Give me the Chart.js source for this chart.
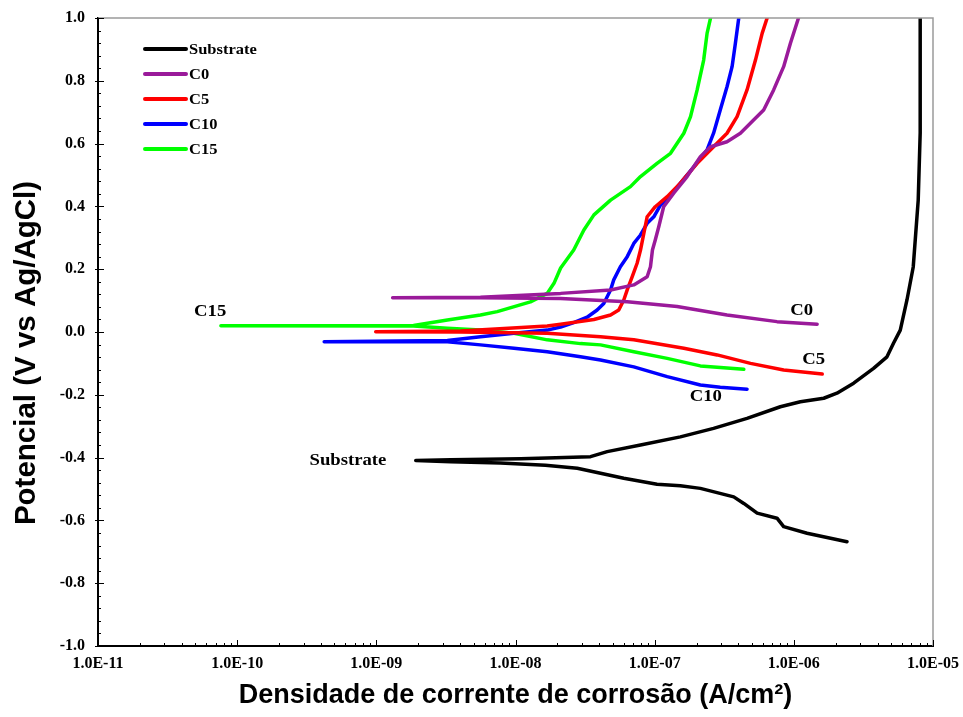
<!DOCTYPE html>
<html>
<head>
<meta charset="utf-8">
<script src="https://cdn.jsdelivr.net/npm/chart.js@4.4.1/dist/chart.umd.min.js"></script>
<style>
  html, body { margin: 0; padding: 0; background: #ffffff; }
  canvas { display: block; }
</style>
</head>
<body>
<canvas id="chart" width="963" height="717"></canvas>
<script>
// Potentiodynamic polarisation curves: current density (A/cm²) vs potential (V vs Ag/AgCl).
// Each curve runs from the cathodic end, through the corrosion potential, up the anodic branch.

const seriesNames  = ['Substrate', 'C0', 'C5', 'C10', 'C15'];
const seriesColors = ['#000000', '#9a1a9a', '#ff0000', '#0000ff', '#00ff00'];

const substrateI = [2.41e-6, 1.245e-6, 8.45e-7, 7.57e-7, 5.45e-7, 4.37e-7, 3.70e-7, 2.13e-7, 1.53e-7, 1.04e-7,
                    6.0e-8, 2.78e-8, 1.64e-8, 7.8e-9, 3.42e-9, 1.92e-9, 3.42e-9, 1.09e-8, 3.46e-8, 4.56e-8,
                    7.91e-8, 1.53e-7, 2.65e-7, 4.61e-7, 8.0e-7, 1.115e-6, 1.64e-6, 2.04e-6, 2.69e-6, 3.74e-6,
                    4.67e-6, 5.2e-6, 5.82e-6, 6.5e-6, 7.21e-6, 7.83e-6, 8.09e-6, 8.09e-6];
const substrateE = [-0.668, -0.641, -0.620, -0.593, -0.577, -0.546, -0.525, -0.498, -0.490, -0.485,
                    -0.466, -0.434, -0.424, -0.417, -0.413, -0.409, -0.407, -0.404, -0.397, -0.381,
                    -0.360, -0.334, -0.307, -0.275, -0.238, -0.222, -0.211, -0.195, -0.163, -0.116,
                    -0.079, -0.036, 0.006, 0.102, 0.207, 0.420, 0.634, 1.0];

const c0I = [1.47e-6, 7.57e-7, 3.31e-7, 1.45e-7, 6.35e-8, 2.11e-8, 5.6e-9, 1.31e-9, 5.6e-9, 2.11e-8,
             4.82e-8, 7.08e-8, 8.83e-8, 9.33e-8, 9.64e-8, 1.01e-7, 1.07e-7, 1.16e-7, 1.37e-7, 1.71e-7,
             2.13e-7, 2.52e-7, 3.31e-7, 4.13e-7, 5.14e-7, 6.07e-7, 7.16e-7, 8.45e-7, 9.44e-7, 1.08e-6];
const c0E = [0.025, 0.033, 0.054, 0.081, 0.096, 0.107, 0.109, 0.109, 0.111, 0.123,
             0.134, 0.150, 0.176, 0.208, 0.261, 0.293, 0.335, 0.399, 0.442, 0.495,
             0.558, 0.590, 0.606, 0.633, 0.675, 0.707, 0.771, 0.845, 0.919, 1.0];

const c5I = [1.60e-6, 8.45e-7, 4.88e-7, 2.81e-7, 1.62e-7, 7.08e-8, 4.08e-8, 1.69e-8, 4.04e-9, 9.9e-10,
             4.04e-9, 1.69e-8, 2.11e-8, 3.66e-8, 4.82e-8, 5.52e-8, 6.0e-8, 6.35e-8, 6.9e-8, 7.48e-8,
             7.91e-8, 8.83e-8, 1.01e-7, 1.23e-7, 1.53e-7, 2.02e-7, 2.65e-7, 3.31e-7, 3.91e-7, 4.61e-7,
             5.3e-7, 5.92e-7, 6.43e-7];
const c5E = [-0.134, -0.121, -0.100, -0.073, -0.052, -0.025, -0.015, -0.004, 0.0, 0.001,
             0.003, 0.019, 0.025, 0.040, 0.054, 0.070, 0.102, 0.134, 0.176, 0.219,
             0.261, 0.367, 0.399, 0.431, 0.474, 0.537, 0.590, 0.633, 0.686, 0.771,
             0.866, 0.951, 1.0];

const c10I = [4.61e-7, 2.96e-7, 2.13e-7, 1.23e-7, 7.08e-8, 4.08e-8, 2.93e-8, 1.69e-8, 9.75e-9, 5.6e-9,
              3.24e-9, 4.22e-10, 3.24e-9, 5.6e-9, 9.75e-9, 1.69e-8, 2.11e-8, 2.62e-8, 3.27e-8, 3.86e-8,
              4.31e-8, 4.82e-8, 5.08e-8, 5.67e-8, 6.35e-8, 7.08e-8, 7.91e-8, 8.83e-8, 9.86e-8, 1.10e-7,
              1.23e-7, 1.53e-7, 1.91e-7, 2.38e-7, 2.65e-7, 2.96e-7, 3.31e-7, 3.6e-7, 3.80e-7, 4.02e-7];
const c10E = [-0.182, -0.176, -0.169, -0.142, -0.111, -0.089, -0.079, -0.063, -0.052, -0.041,
              -0.031, -0.031, -0.027, -0.015, -0.004, 0.006, 0.016, 0.030, 0.047, 0.070,
              0.091, 0.134, 0.166, 0.208, 0.240, 0.282, 0.309, 0.346, 0.367, 0.404,
              0.420, 0.474, 0.526, 0.580, 0.633, 0.707, 0.781, 0.845, 0.919, 1.0];

const c15I = [4.37e-7, 2.13e-7, 1.23e-7, 7.08e-8, 4.08e-8, 2.93e-8, 1.69e-8, 9.75e-9, 5.6e-9, 3.24e-9,
              1.85e-9, 7.64e-11, 1.85e-9, 3.24e-9, 5.6e-9, 7.39e-9, 1.28e-8, 1.69e-8, 1.89e-8, 2.11e-8,
              2.62e-8, 3.10e-8, 3.66e-8, 4.82e-8, 6.7e-8, 7.91e-8, 1.04e-7, 1.30e-7, 1.62e-7, 1.81e-7,
              2.02e-7, 2.25e-7, 2.38e-7, 2.52e-7];
const c15E = [-0.119, -0.108, -0.084, -0.063, -0.041, -0.037, -0.025, -0.004, 0.006, 0.012,
              0.019, 0.020, 0.021, 0.038, 0.054, 0.065, 0.096, 0.123, 0.155, 0.204,
              0.261, 0.325, 0.373, 0.420, 0.463, 0.495, 0.537, 0.569, 0.633, 0.686,
              0.771, 0.866, 0.951, 1.0];

// Axis ranges and tick values
const xDecades = [1e-11, 1e-10, 1e-9, 1e-8, 1e-7, 1e-6, 1e-5];
const yMin = -1.0, yMax = 1.0, yStep = 0.2, yMinorStep = 0.04;

// Curve labels placed beside each curve (current density, potential)
const curveLabels = [
  { text: 'C15',       i: 6.4e-11, e: 0.064 },
  { text: 'C0',        i: 1.14e-6, e: 0.067 },
  { text: 'C5',        i: 1.39e-6, e: -0.089 },
  { text: 'C10',       i: 2.33e-7, e: -0.207 },
  { text: 'Substrate', i: 6.25e-10, e: -0.411 }
];

const currents   = [substrateI, c0I, c5I, c10I, c15I];
const potentials = [substrateE, c0E, c5E, c10E, c15E];

const datasets = seriesNames.map((name, k) => ({
  label: name,
  data: currents[k].map((v, j) => ({ x: v, y: potentials[k][j] })),
  borderColor: seriesColors[k],
  backgroundColor: seriesColors[k],
  borderWidth: 3.5,
  pointRadius: 0,
  showLine: true,
  tension: 0,
  borderJoinStyle: 'round',
  borderCapStyle: 'round'
}));

const SERIF = "'Liberation Serif', 'Times New Roman', serif";
const SANS = "'Liberation Sans', Arial, sans-serif";

function drawStretched(ctx, text, x, y, font, align, sx) {
  ctx.save();
  ctx.font = font;
  ctx.textAlign = align;
  ctx.textBaseline = 'middle';
  ctx.fillStyle = '#000';
  ctx.translate(x, y);
  ctx.scale(sx, 1);
  ctx.fillText(text, 0, 0);
  ctx.restore();
}

const decorations = {
  id: 'decorations',
  afterDraw(chart) {
    const { ctx, chartArea: a, scales: { x, y } } = chart;
    ctx.save();

    // thin frame on top and right
    ctx.strokeStyle = '#9a9a9a';
    ctx.lineWidth = 1.5;
    ctx.beginPath();
    ctx.moveTo(a.left, a.top);
    ctx.lineTo(a.right, a.top);
    ctx.lineTo(a.right, a.bottom);
    ctx.stroke();

    // inward tick marks on the x axis: decades and their 2..9 multiples
    ctx.strokeStyle = '#000';
    ctx.lineWidth = 1;
    ctx.beginPath();
    for (let d = 0; d < xDecades.length; d++) {
      for (let m = 1; m <= 9; m++) {
        const v = xDecades[d] * m;
        if (v > xDecades[xDecades.length - 1] * 1.0001) break;
        const px = Math.round(x.getPixelForValue(v)) + 0.5;
        const len = m === 1 ? 6 : 3;
        ctx.moveTo(px, a.bottom);
        ctx.lineTo(px, a.bottom - len);
      }
    }
    // inward tick marks on the y axis
    const nMinor = Math.round((yMax - yMin) / yMinorStep);
    for (let k = 0; k <= nMinor; k++) {
      const v = yMin + k * yMinorStep;
      const py = Math.round(y.getPixelForValue(v)) + 0.5;
      const major = k % Math.round(yStep / yMinorStep) === 0;
      ctx.moveTo(a.left - (major ? 3 : 0), py);
      ctx.lineTo(a.left + (major ? 6 : 3), py);
    }
    ctx.stroke();

    // legend inside the plot, upper left
    const legX0 = 145, legX1 = 186, legY0 = 49, legDy = 25;
    chart.data.datasets.forEach((ds, k) => {
      const ly = legY0 + k * legDy;
      ctx.strokeStyle = ds.borderColor;
      ctx.lineWidth = 4;
      ctx.lineCap = 'round';
      ctx.beginPath();
      ctx.moveTo(legX0, ly);
      ctx.lineTo(legX1, ly);
      ctx.stroke();
      drawStretched(ctx, ds.label, legX1 + 3, ly + 1, 'bold 15px ' + SERIF, 'left', 1.1);
    });

    // curve labels
    curveLabels.forEach(l => {
      drawStretched(ctx, l.text, x.getPixelForValue(l.i), y.getPixelForValue(l.e),
                    'bold 17px ' + SERIF, 'center', 1.1);
    });

    // y axis title
    ctx.save();
    ctx.translate(27, 353);
    ctx.rotate(-Math.PI / 2);
    ctx.font = 'bold 29.5px ' + SANS;
    ctx.textAlign = 'center';
    ctx.textBaseline = 'middle';
    ctx.fillStyle = '#000';
    ctx.fillText('Potencial (V vs Ag/AgCl)', 0, 0);
    ctx.restore();

    ctx.restore();
  }
};

function sciLabel(v) {
  const e = Math.round(Math.log10(v));
  const s = Math.abs(e).toString().padStart(2, '0');
  return '1.0E' + (e < 0 ? '-' : '+') + s;
}

new Chart(document.getElementById('chart'), {
  type: 'scatter',
  data: { datasets },
  options: {
    responsive: false,
    animation: false,
    devicePixelRatio: 1,
    layout: { padding: { top: 18, right: 30, left: 0, bottom: 0 } },
    plugins: { legend: { display: false }, tooltip: { enabled: false } },
    scales: {
      x: {
        type: 'logarithmic',
        min: xDecades[0],
        max: xDecades[xDecades.length - 1],
        afterBuildTicks: s => { s.ticks = xDecades.map(v => ({ value: v })); },
        afterFit: s => { s.height = 71; s.paddingLeft = 0; s.paddingRight = 0; },
        grid: { display: false, drawTicks: false },
        border: { display: true, color: '#000', width: 2 },
        ticks: {
          autoSkip: false,
          maxRotation: 0,
          padding: 8,
          color: '#000',
          font: { family: SERIF, weight: 'bold', size: 16 },
          callback: v => sciLabel(v)
        },
        title: {
          display: true,
          text: 'Densidade de corrente de corrosão (A/cm²)',
          color: '#000',
          font: { family: SANS, weight: 'bold', size: 27, lineHeight: 1 },
          padding: { top: 0, bottom: 8 }
        }
      },
      y: {
        type: 'linear',
        min: yMin,
        max: yMax,
        afterFit: s => { s.width = 98; s.paddingTop = 0; s.paddingBottom = 0; },
        grid: { display: false, drawTicks: false },
        border: { display: true, color: '#000', width: 2 },
        ticks: {
          stepSize: yStep,
          padding: 13,
          color: '#000',
          font: { family: SERIF, weight: 'bold', size: 16 },
          callback: v => Number(v).toFixed(1)
        }
      }
    }
  },
  plugins: [decorations]
});
</script>
</body>
</html>
